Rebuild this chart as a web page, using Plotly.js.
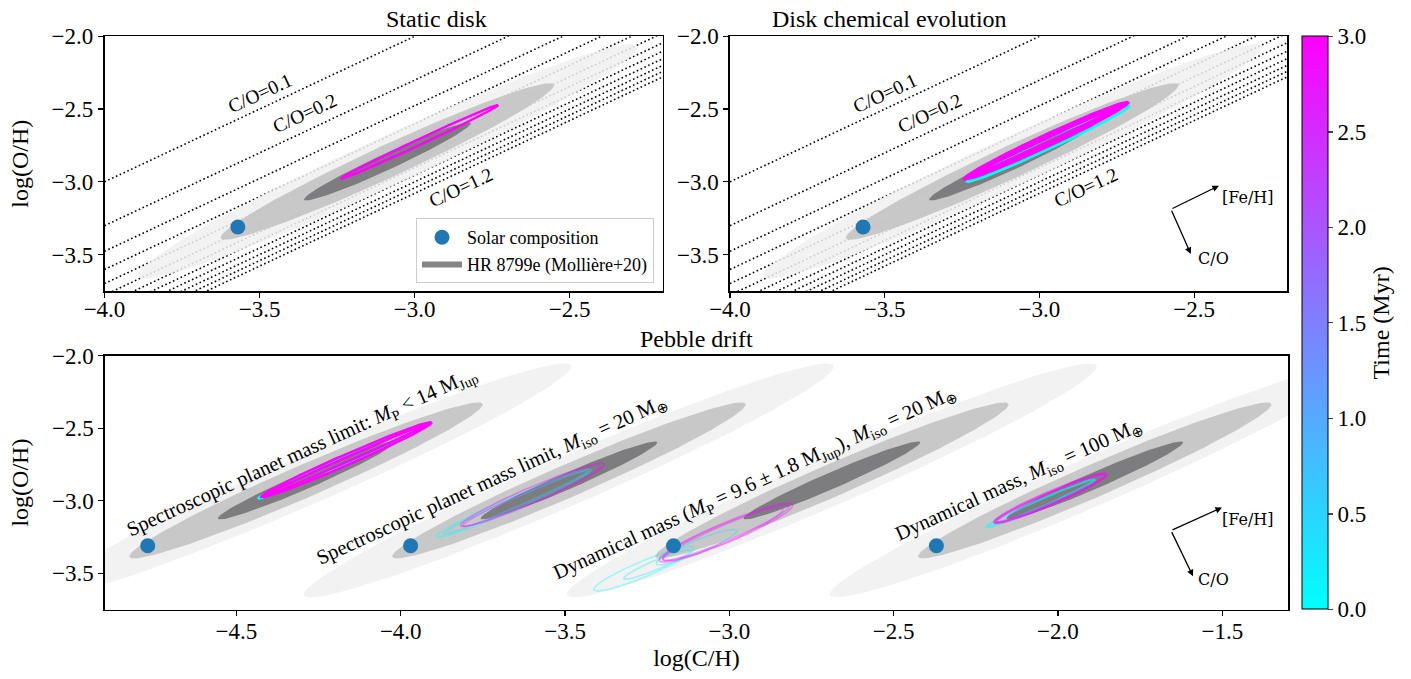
<!DOCTYPE html>
<html><head><meta charset="utf-8">
<script src="https://cdn.plot.ly/plotly-3.0.1.min.js"></script>
<style>html,body{margin:0;padding:0;background:#fff}#chart{width:1411px;height:679px}</style>
</head><body><div id="chart"></div>
<script>
// ---------------- DATA ----------------
// Solar composition
const solarLogC = -3.57;
const solarLogO = -3.31;

// C/O ratio reference lines (top panels)
const coRatios = [0.1, 0.2, 0.3, 0.4, 0.5, 0.6, 0.7, 0.8, 0.9, 1.0, 1.1, 1.2];
const coLabelled = [0.1, 0.2, 1.2];

// HR 8799e retrieval (Molliere+20): centre and 1-sigma half widths
const hrLogC = -3.088;
const hrLogO = -2.860;
const hrSigmaFeH = 0.267;   // along [Fe/H] (both C and O)
const hrSigmaCO = 0.062;    // along log(C/O)
const hrLevels = [3, 2, 1];

// Scenarios
const scenarioKeys = ['static', 'chem', 'drift0', 'drift1', 'drift2', 'drift3'];
const driftLabels = [
  'Spectroscopic planet mass limit: <i>M</i><sub>P</sub> &lt; 14 M<sub>Jup</sub>',
  'Spectroscopic planet mass limit, <i>M</i><sub>iso</sub> = 20 M<sub>⊕</sub>',
  'Dynamical mass (<i>M</i><sub>P</sub> = 9.6 ± 1.8 M<sub>Jup</sub>), <i>M</i><sub>iso</sub> = 20 M<sub>⊕</sub>',
  'Dynamical mass, <i>M</i><sub>iso</sub> = 100 M<sub>⊕</sub>'
];
const driftOffsets = [-1.2, -0.4, 0.4, 1.2];   // display shift in log(C/H) for each pebble-drift case

// Model planet composition contours (centre, half-length along [Fe/H], half-width in log C/O, time in Myr)
const loopScenario = ['static',
  'chem', 'chem', 'chem', 'chem',
  'drift0', 'drift0', 'drift0',
  'drift1', 'drift1', 'drift1', 'drift1',
  'drift2', 'drift2', 'drift2', 'drift2', 'drift2', 'drift2',
  'drift3', 'drift3', 'drift3'];
const loopLogC = [-2.983,
  -2.972, -2.978, -2.978, -2.978,
  -2.972, -2.965, -2.965,
  -3.257, -3.250, -3.200, -3.199,
  -3.660, -3.620, -3.500, -3.420, -3.410, -3.410,
  -3.252, -3.223, -3.223];
const loopLogO = [-2.7245,
  -2.738, -2.717, -2.717, -2.717,
  -2.724, -2.717, -2.717,
  -3.017, -3.010, -2.965, -2.960,
  -3.470, -3.440, -3.320, -3.230, -3.220, -3.220,
  -3.017, -2.983, -2.983];
const loopHalfFeH = [0.2525,
  0.262, 0.265, 0.262, 0.258,
  0.262, 0.258, 0.255,
  0.235, 0.220, 0.210, 0.217,
  0.150, 0.100, 0.120, 0.180, 0.190, 0.200,
  0.165, 0.165, 0.170];
const loopHalfCO = [0.022,
  0.040, 0.045, 0.030, 0.015,
  0.026, 0.040, 0.018,
  0.050, 0.035, 0.045, 0.060,
  0.060, 0.035, 0.050, 0.070, 0.060, 0.075,
  0.028, 0.040, 0.050];
const loopTime = [3.0,
  0.0, 3.0, 3.0, 3.0,
  0.0, 3.0, 3.0,
  0.0, 0.3, 2.5, 3.0,
  0.0, 0.3, 0.5, 2.5, 2.8, 3.0,
  0.0, 2.7, 3.0];

const timeTicks = [0, 0.5, 1.0, 1.5, 2.0, 2.5, 3.0];

// ---------------- STYLE ----------------
const FONT = 'Liberation Serif';
const loopStyle = {
  static: {alpha: 1, width: 2.5}, chem: {alpha: 1, width: 2.5},
  drift0: {alpha: 1, width: 2.5}, drift1: {alpha: 0.38, width: 1.6},
  drift2: {alpha: 0.35, width: 1.6}, drift3: {alpha: 0.55, width: 2.2}
};
const hrFill = {3: 'rgba(240,240,240,0.85)', 2: 'rgba(193,193,193,0.85)', 1: 'rgba(112,111,114,0.85)'};
const topXRange = [-4.0, -2.2], botXRange = [-4.9, -1.3], yRange = [-3.75, -2.0];

// ---------------- HELPERS ----------------
function ellipse(cx, cy, L, W, n) {
  n = n || 160;
  const xs = [], ys = [];
  for (let i = 0; i <= n; i++) {
    const th = 2 * Math.PI * i / n;
    const u = L * Math.cos(th), v = W * Math.sin(th);
    xs.push(cx + u + v / 2);
    ys.push(cy + u - v / 2);
  }
  return {x: xs, y: ys};
}
function cool(t, a) {
  const f = t / 3;
  return 'rgba(' + Math.round(255 * f) + ',' + Math.round(255 * (1 - f)) + ',255,' + a + ')';
}
function panelOf(key) {
  if (key === 'static') return {xa: 'x', ya: 'y', off: 0};
  if (key === 'chem') return {xa: 'x2', ya: 'y2', off: 0};
  const k = +key.slice(5);
  return {xa: 'x3', ya: 'y3', off: driftOffsets[k]};
}

const traces = [];
// C/O lines on the top panels
['x', 'x2'].forEach((xa, pi) => {
  coRatios.forEach(co => {
    const xs = topXRange.slice();
    traces.push({type: 'scatter', mode: 'lines', xaxis: xa, yaxis: pi ? 'y2' : 'y',
      x: xs, y: xs.map(v => v - Math.log10(co)),
      line: {color: 'black', width: 1.6, dash: '1.6px,2.6px'}, showlegend: false, hoverinfo: 'skip'});
  });
});
// HR 8799e ellipses
let hrLegendDone = false;
scenarioKeys.forEach(key => {
  const p = panelOf(key);
  hrLevels.forEach(lv => {
    const e = ellipse(hrLogC + p.off, hrLogO, lv * hrSigmaFeH, lv * hrSigmaCO);
    const leg = (lv === 1 && !hrLegendDone);
    if (leg) hrLegendDone = true;
    traces.push({type: 'scatter', mode: 'lines', xaxis: p.xa, yaxis: p.ya, x: e.x, y: e.y,
      fill: 'toself', fillcolor: hrFill[lv], line: {width: 0, color: hrFill[lv]},
      name: 'HR 8799e (Mollière+20)', showlegend: leg, legendrank: 2, hoverinfo: 'skip'});
  });
});
// model contours
scenarioKeys.forEach(key => {
  const p = panelOf(key);
  const idx = loopScenario.map((s, i) => s === key ? i : -1).filter(i => i >= 0)
    .sort((a, b) => loopTime[a] - loopTime[b]);
  idx.forEach(i => {
    const e = ellipse(loopLogC[i] + p.off, loopLogO[i], loopHalfFeH[i], loopHalfCO[i]);
    traces.push({type: 'scatter', mode: 'lines', xaxis: p.xa, yaxis: p.ya, x: e.x, y: e.y,
      line: {color: cool(loopTime[i], loopStyle[key].alpha), width: loopStyle[key].width},
      showlegend: false, hoverinfo: 'skip'});
  });
});
// solar composition points
let solarLegendDone = false;
scenarioKeys.forEach(key => {
  const p = panelOf(key);
  traces.push({type: 'scatter', mode: 'markers', xaxis: p.xa, yaxis: p.ya,
    x: [solarLogC + p.off], y: [solarLogO],
    marker: {color: '#1f77b4', size: 15}, name: 'Solar composition',
    showlegend: !solarLegendDone, legendrank: 1, hoverinfo: 'skip'});
  solarLegendDone = true;
});
// colorbar
traces.push({type: 'scatter', mode: 'markers', x: [null], y: [null], xaxis: 'x3', yaxis: 'y3',
  showlegend: false, hoverinfo: 'skip',
  marker: {color: [0, 3], cmin: 0, cmax: 3,
    colorscale: [[0, 'rgb(0,255,255)'], [1, 'rgb(255,0,255)']], showscale: true,
    colorbar: {x: 1302 / 1411, xanchor: 'left', y: (679 - 322.9) / 679, yanchor: 'middle',
      len: 573, lenmode: 'pixels', thickness: 26, thicknessmode: 'pixels', xpad: 0, ypad: 0,
      outlinewidth: 1, outlinecolor: 'black', ticks: 'outside', ticklen: 5, tickwidth: 1.2,
      tickvals: timeTicks, tickformat: '.1f', tickfont: {family: FONT, size: 23, color: 'black'},
      title: {text: 'Time (Myr)', side: 'right', font: {family: FONT, size: 24, color: 'black'}}}}
});

// ---------------- LAYOUT ----------------
function axis(range, domain, anchor, dtick, extra) {
  return Object.assign({range: range, domain: domain, anchor: anchor, dtick: dtick, tick0: -4,
    tickformat: '.1f', showgrid: false, zeroline: false, showline: true, mirror: true,
    linecolor: 'black', linewidth: 1.6, ticks: 'outside', ticklen: 5, tickwidth: 1.2, tickcolor: 'black',
    tickfont: {family: FONT, size: 23, color: 'black'}}, extra || {});
}
const topDom = [(679 - 291) / 679, (679 - 36.3) / 679];
const botDom = [(679 - 609.5) / 679, (679 - 355.7) / 679];
const ttl = (t, s) => ({text: t, font: {family: FONT, size: 24, color: 'black'}, standoff: s});

const annotations = [];
// C/O labels
[['x', 'y'], ['x2', 'y2']].forEach(([xa, ya]) => {
  const pos = {0.1: [-3.50, 0.11], 0.2: [-3.355, 0.125], 1.2: [-2.85, -0.11]};
  coLabelled.forEach(co => {
    const [lx, dy] = pos[co];
    annotations.push({xref: xa, yref: ya, x: lx, y: lx - Math.log10(co) + dy,
      text: 'C/O=' + co.toFixed(1), showarrow: false, textangle: -25,
      font: {family: FONT, size: 19.5, color: 'black'}});
  });
});
// drift labels
const driftLabelPos = [[-4.30, -2.665], [-3.721, -2.862], [-2.922, -2.88], [-2.12, -2.862]];
driftLabels.forEach((t, k) => {
  annotations.push({xref: 'x3', yref: 'y3', x: driftLabelPos[k][0], y: driftLabelPos[k][1], text: t,
    showarrow: false, textangle: -24.5, font: {family: FONT, size: 20.5, color: 'black'}});
});
// direction arrows
function arrows(xa, ya, o, fe, co, feL, coL) {
  annotations.push({xref: xa, yref: ya, axref: xa, ayref: ya, x: fe[0], y: fe[1], ax: o[0], ay: o[1],
    text: '', showarrow: true, arrowhead: 2, arrowsize: 1, arrowwidth: 1.3, arrowcolor: 'black'});
  annotations.push({xref: xa, yref: ya, axref: xa, ayref: ya, x: co[0], y: co[1], ax: o[0], ay: o[1],
    text: '', showarrow: true, arrowhead: 2, arrowsize: 1, arrowwidth: 1.3, arrowcolor: 'black'});
  annotations.push({xref: xa, yref: ya, x: feL[0], y: feL[1], text: '[Fe/H]', showarrow: false,
    font: {family: 'DejaVu Serif', size: 16, color: 'black'}});
  annotations.push({xref: xa, yref: ya, x: coL[0], y: coL[1], text: 'C/O', showarrow: false,
    font: {family: 'DejaVu Serif', size: 16, color: 'black'}});
}
arrows('x2', 'y2', [-2.575, -3.188], [-2.42, -3.027], [-2.511, -3.495], [-2.326, -3.105], [-2.439, -3.525]);
arrows('x3', 'y3', [-1.656, -3.206], [-1.501, -3.047], [-1.589, -3.521], [-1.422, -3.127], [-1.528, -3.544]);
// subplot titles
[['Static disk', (104.5 + 662.7) / 2 / 1411, topDom[1]],
 ['Disk chemical evolution', (730 + 1287) / 2 / 1411, topDom[1]],
 ['Pebble drift', (105 + 1288) / 2 / 1411, botDom[1]]].forEach(([t, x, y]) => {
  annotations.push({xref: 'paper', yref: 'paper', x: x, y: y, yanchor: 'bottom', yshift: 2,
    text: t, showarrow: false, font: {family: FONT, size: 24, color: 'black'}});
});

const layout = {
  width: 1411, height: 679, margin: {l: 0, r: 0, t: 0, b: 0},
  paper_bgcolor: 'white', plot_bgcolor: 'white',
  font: {family: FONT, color: 'black'},
  xaxis: axis(topXRange, [104.5 / 1411, 662.7 / 1411], 'y', 0.5, {ticklabelstandoff: -8}),
  yaxis: axis(yRange, topDom, 'x', 0.5, {title: ttl('log(O/H)', 16)}),
  xaxis2: axis(topXRange, [730 / 1411, 1287 / 1411], 'y2', 0.5, {ticklabelstandoff: -8}),
  yaxis2: axis(yRange, topDom, 'x2', 0.5),
  xaxis3: axis(botXRange, [105 / 1411, 1288 / 1411], 'y3', 0.5, {ticklabelstandoff: -5, title: ttl('log(C/H)', 6)}),
  yaxis3: axis(yRange, botDom, 'x3', 0.5, {title: ttl('log(O/H)', 16)}),
  showlegend: true,
  legend: {x: 654 / 1411, xanchor: 'right', y: (679 - 218) / 679, yanchor: 'top',
    bgcolor: 'rgba(255,255,255,0.85)', bordercolor: '#cccccc', borderwidth: 1,
    font: {family: FONT, size: 18, color: 'black'}, tracegroupgap: 2, itemwidth: 40},
  annotations: annotations
};

Plotly.newPlot('chart', traces, layout, {staticPlot: true});
</script>
</body></html>
